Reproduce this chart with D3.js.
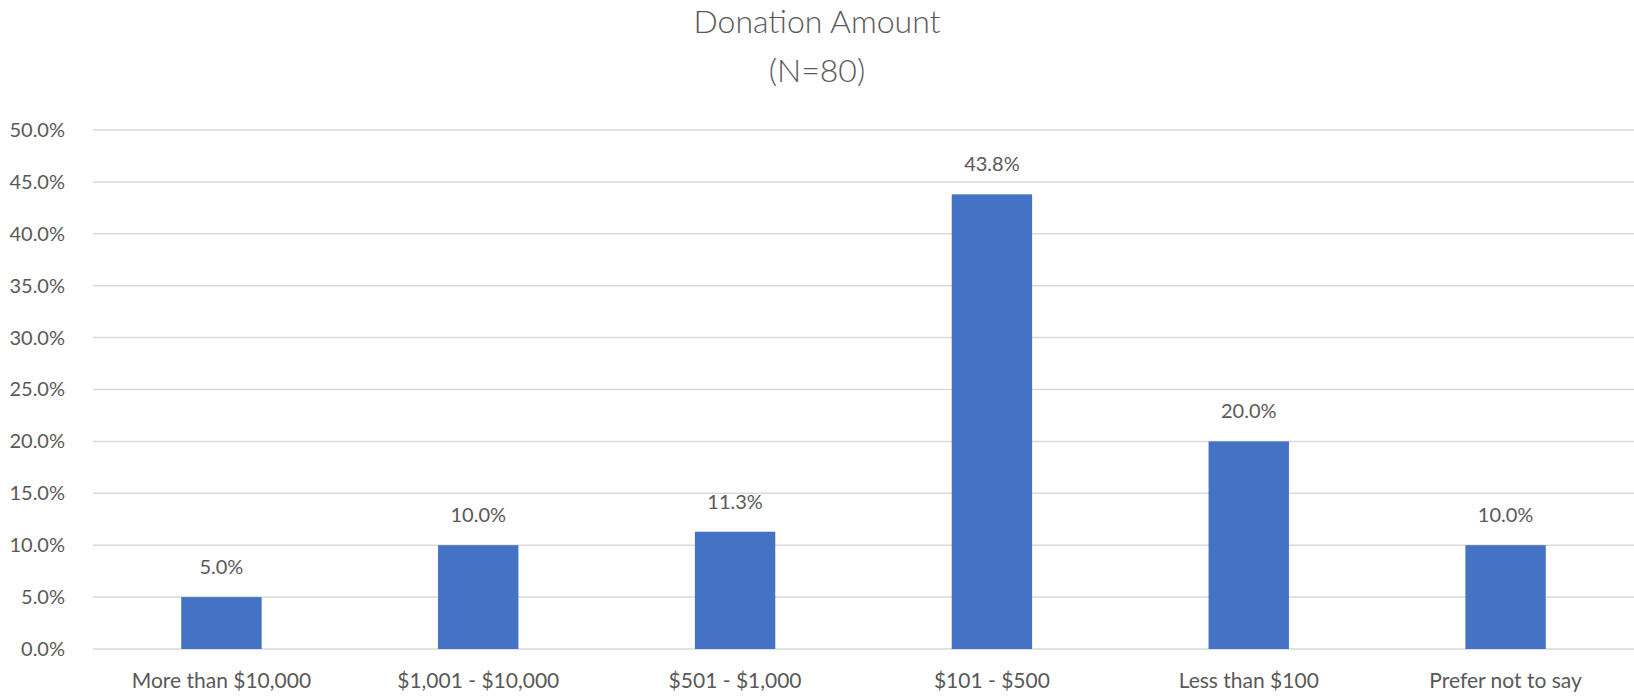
<!DOCTYPE html>
<html>
<head>
<meta charset="utf-8">
<script src="https://cdn.jsdelivr.net/npm/d3@7"></script>
<style>
  body { margin: 0; background: #fff; }
  text { font-family: Lato, "Open Sans", sans-serif; fill: #595959; }
</style>
</head>
<body>
<div id="chart"></div>
<script>
// data
var categories = ["More than $10,000", "$1,001 - $10,000", "$501 - $1,000", "$101 - $500", "Less than $100", "Prefer not to say"];
var percents = [5.0, 10.0, 11.3, 43.8, 20.0, 10.0];
var yTicks = [0, 5, 10, 15, 20, 25, 30, 35, 40, 45, 50];

var svgWidth = 1634;
var svgHeight = 700;

var margin = { top: 130, bottom: 51, left: 93, right: 0 };
var chartWidth = svgWidth - margin.left - margin.right;
var chartHeight = svgHeight - margin.top - margin.bottom;

var svg = d3.select('#chart').append('svg')
    .attr('width', svgWidth)
    .attr('height', svgHeight);

// title
svg.append('text')
    .attr('x', svgWidth / 2).attr('y', 33)
    .attr('text-anchor', 'middle')
    .style('font-size', '32px')
    .style('font-weight', 300)
    .text('Donation Amount');
svg.append('text')
    .attr('x', svgWidth / 2).attr('y', 82)
    .attr('text-anchor', 'middle')
    .style('font-size', '32px')
    .style('font-weight', 300)
    .text('(N=80)');

var chartGroup = svg.append('g').attr('transform', `translate(${margin.left},${margin.top})`);

var data = categories.map((c, i) => ({ cat: c, val: percents[i] }));

var xScale = d3.scaleBand().domain(categories).range([0, chartWidth])
    .paddingInner(0.687).paddingOuter(0.3435);
var yScale = d3.scaleLinear().domain([0, 50]).range([chartHeight, 0]);

// gridlines
chartGroup.append('g').selectAll('line')
    .data(yTicks)
    .enter()
    .append('line')
    .attr('x1', 0).attr('x2', chartWidth)
    .attr('y1', d => yScale(d)).attr('y2', d => yScale(d))
    .attr('stroke', '#d9d9d9')
    .attr('stroke-width', 1.5);

// y axis labels
var leftAxis = d3.axisLeft(yScale).tickValues(yTicks).tickFormat(d => d.toFixed(1) + '%').tickSize(0).tickPadding(28);
var yAxis = chartGroup.append('g').call(leftAxis);
yAxis.select('.domain').remove();
yAxis.selectAll('text').style('font-size', '20px').attr('fill', '#595959').attr('font-family', null);

// bars
chartGroup.append('g').selectAll('rect')
    .data(data)
    .enter()
    .append('rect')
    .attr('x', d => xScale(d.cat))
    .attr('y', d => yScale(d.val))
    .attr('width', xScale.bandwidth())
    .attr('height', d => chartHeight - yScale(d.val))
    .attr('fill', '#4472c4');

// value labels
chartGroup.append('g').selectAll('text')
    .data(data)
    .enter()
    .append('text')
    .attr('x', d => xScale(d.cat) + xScale.bandwidth() / 2)
    .attr('y', d => yScale(d.val) - 23)
    .attr('text-anchor', 'middle')
    .style('font-size', '20px')
    .text(d => d.val.toFixed(1) + '%');

// x axis labels
var bottomAxis = d3.axisBottom(xScale).tickSize(0).tickPadding(24);
var xAxis = chartGroup.append('g')
    .attr('transform', `translate(0,${chartHeight})`)
    .call(bottomAxis);
xAxis.select('.domain').remove();
xAxis.selectAll('text').style('font-size', '21px').attr('fill', '#595959').attr('font-family', null);
</script>
</body>
</html>
